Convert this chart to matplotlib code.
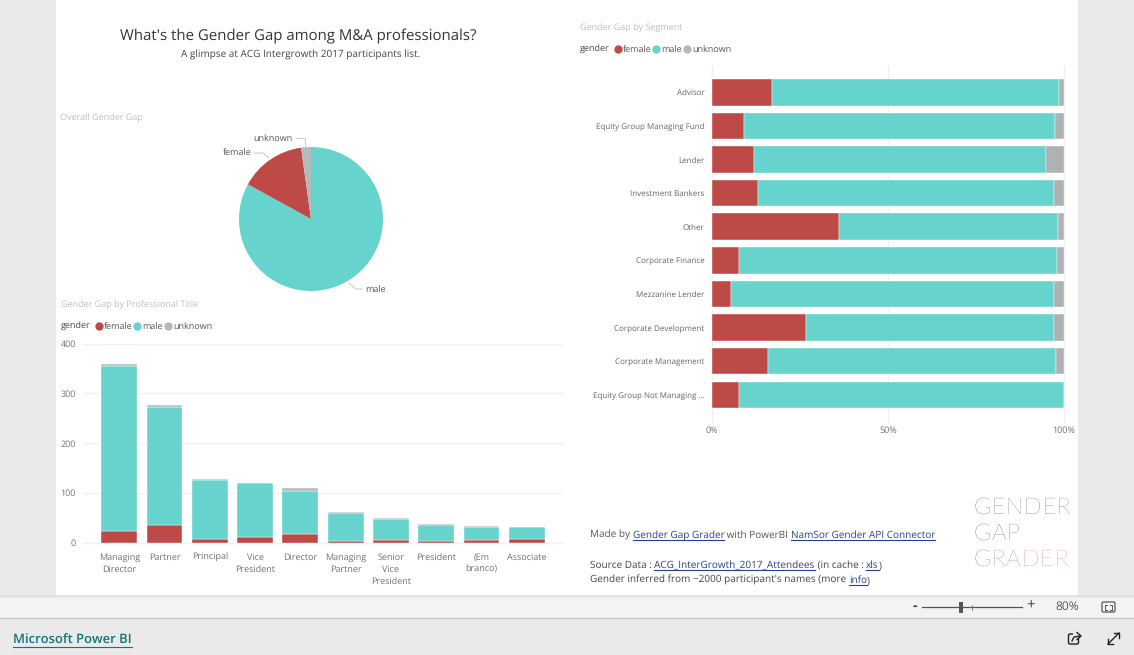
"""Power BI gender gap report page, redrawn in matplotlib."""
import matplotlib
matplotlib.use("Agg")
import matplotlib.pyplot as plt
from matplotlib.patches import Rectangle, FancyBboxPatch

W, H = 1134, 655

FEMALE = "#BE4A47"
MALE = "#66D4CC"
UNKNOWN = "#B4B9BA"
LINK = "#26408F"
TEXT = "#555555"
SOFT = "#BEBEBE"
AXIS = "#707070"
GRID = "#F1F1F1"

# pie, in slice order clockwise from the top
pie_labels = ["male", "female", "unknown"]
pie_values = [83.0, 14.8, 2.2]

titles = ["Managing\nDirector", "Partner", "Principal", "Vice\nPresident", "Director",
          "Managing\nPartner", "Senior\nVice\nPresident", "President", "(Em\nbranco)", "Associate"]
title_female = [23, 35, 8, 11, 17, 4, 5, 4, 5, 7]
title_male = [333, 238, 119, 108, 87, 56, 43, 32, 27, 24]
title_unknown = [3, 4, 1, 1, 5, 1, 1, 1, 1, 1]
title_ticks = [0, 100, 200, 300, 400]

segments = ["Advisor", "Equity Group Managing Fund", "Lender", "Investment Bankers", "Other",
            "Corporate Finance", "Mezzanine Lender", "Corporate Development",
            "Corporate Management", "Equity Group Not Managing ..."]
seg_female = [17.1, 9.1, 11.9, 13.0, 36.1, 7.7, 5.4, 26.7, 15.8, 7.6]
seg_male = [81.5, 88.4, 83.1, 84.3, 62.3, 90.4, 91.8, 70.4, 81.8, 92.4]
seg_unknown = [1.4, 2.5, 5.0, 2.7, 1.6, 1.9, 2.8, 2.9, 2.4, 0.0]
seg_ticks = [0, 50, 100]
seg_tick_labels = ["0%", "50%", "100%"]

plt.rcParams["font.family"] = ["Open Sans", "DejaVu Sans"]
plt.rcParams["text.hinting"] = "no_hinting"
plt.rcParams["text.hinting_factor"] = 1

fig = plt.figure(figsize=(W / 100, H / 100), dpi=100, facecolor="#EAEAEA")
renderer = fig.canvas.get_renderer()

# page layer in pixel coordinates, y down
page = fig.add_axes([0, 0, 1, 1])
page.set_xlim(0, W)
page.set_ylim(H, 0)
page.axis("off")


def px_axes(left, top, right, bottom):
    ax = fig.add_axes([left / W, 1 - bottom / H, (right - left) / W, (bottom - top) / H])
    ax.patch.set_alpha(0)
    for s in ax.spines.values():
        s.set_visible(False)
    return ax


def run(x, y, parts, size, color=TEXT, link=LINK, weight="normal", under_gap=2.2):
    # consecutive text pieces on one baseline, (text, underlined)
    for txt, under in parts:
        page.text(x, y, txt, fontsize=size, va="baseline", ha="left", weight=weight,
                  color=link if under else color)
        adv = page.text(0, 0, "." + txt + ".", fontsize=size, weight=weight, alpha=0)
        dot = page.text(0, 0, "..", fontsize=size, weight=weight, alpha=0)
        w = adv.get_window_extent(renderer).width - dot.get_window_extent(renderer).width
        adv.remove()
        dot.remove()
        if under:
            page.plot([x, x + w], [y + under_gap, y + under_gap], color=link, lw=0.8)
        x += w
    return x


def legend(x, y):
    page.text(x, y + 3, "gender", fontsize=6.6, va="baseline", color="#444444")
    for px, name, col in [(x + 38, "female", FEMALE), (x + 76, "male", MALE), (x + 107, "unknown", UNKNOWN)]:
        page.scatter([px], [y], s=36, color=col, linewidths=0)
        page.text(px + 5, y + 3, name, fontsize=6.5, va="baseline", color="#555555")


# background blocks
page.add_patch(Rectangle((56, 0), 1022, 595, color="white", lw=0))
page.add_patch(Rectangle((0, 596), W, 22, color="#F3F3F3", lw=0))
page.plot([0, W], [595.5, 595.5], color="#DEDEDE", lw=1)
page.plot([0, W], [618, 618], color="#C8C8C8", lw=1)

page.text(298, 36.5, "What's the Gender Gap among M&A professionals?", fontsize=10.6,
          ha="center", va="center", color="#333333")
page.text(300.5, 54.5, "A glimpse at ACG Intergrowth 2017 participants list.", fontsize=7.3,
          ha="center", va="center", color="#444444")

page.text(60, 118.5, "Overall Gender Gap", fontsize=6.6, va="center", color=SOFT)
page.text(61, 305, "Gender Gap by Professional Title", fontsize=6.6, va="center", color=SOFT)
page.text(580, 28.5, "Gender Gap by Segment", fontsize=6.6, va="center", color=SOFT)
legend(61, 326)
legend(580, 49)

# pie
ax_pie = px_axes(239, 147, 383, 291)
ax_pie.pie(pie_values, colors=[MALE, FEMALE, UNKNOWN], startangle=90, counterclock=False, radius=1)
ax_pie.set_xlim(-1, 1)
ax_pie.set_ylim(-1, 1)
for xs, ys in [([349, 356, 362], [283, 289, 289]), ([254, 263, 269], [153, 153, 158]),
               ([296, 305, 305], [138, 138, 146])]:
    page.plot(xs, ys, color="#CFCFCF", lw=0.8)
page.text(365, 290, pie_labels[0], fontsize=6.4, va="center", color=TEXT)
page.text(252, 153, pie_labels[1], fontsize=6.4, va="center", ha="right", color=TEXT)
page.text(292, 139, pie_labels[2], fontsize=6.4, va="center", ha="right", color=TEXT)

# stacked columns
ax_col = px_axes(83, 343.7, 563, 542.7)
pos = list(range(len(titles)))
base2 = [a + b for a, b in zip(title_female, title_male)]
bar_edge = dict(edgecolor="#FFFFFF", linewidth=0.3)
ax_col.bar(pos, title_female, width=0.79, color=FEMALE, zorder=3, **bar_edge)
ax_col.bar(pos, title_male, width=0.79, bottom=title_female, color=MALE, zorder=3, **bar_edge)
ax_col.bar(pos, title_unknown, width=0.79, bottom=base2, color=UNKNOWN, zorder=3, **bar_edge)
ax_col.set_xlim(-0.8, 9.8)
ax_col.set_ylim(0, 400)
ax_col.set_yticks(title_ticks)
ax_col.set_xticks(pos)
ax_col.set_xticklabels(titles, fontsize=6.3, color=AXIS, linespacing=1.42)
ax_col.tick_params(axis="y", length=0, labelsize=6.5, labelcolor=AXIS, pad=5)
ax_col.tick_params(axis="x", length=0, pad=7.5)
ax_col.grid(axis="y", color=GRID, lw=1, zorder=0)
ax_col.set_axisbelow(True)
ax_col.get_ygridlines()[0].set_clip_on(False)

# 100% stacked bars
ax_seg = px_axes(712, 66, 1064, 421.7)
ypos = list(range(len(segments)))
left2 = [a + b for a, b in zip(seg_female, seg_male)]
ax_seg.barh(ypos, seg_female, height=0.79, color=FEMALE, zorder=3, **bar_edge)
ax_seg.barh(ypos, seg_male, height=0.79, left=seg_female, color=MALE, zorder=3, **bar_edge)
ax_seg.barh(ypos, seg_unknown, height=0.79, left=left2, color="#ADB2B3", zorder=3, **bar_edge)
ax_seg.set_xlim(0, 100)
ax_seg.set_ylim(9.8, -0.78)
ax_seg.set_yticks(ypos)
ax_seg.set_yticklabels(segments, fontsize=6.1, color="#666666")
ax_seg.set_xticks(seg_ticks)
ax_seg.set_xticklabels(seg_tick_labels, fontsize=6.3, color=AXIS)
ax_seg.tick_params(axis="y", length=0, pad=5.5)
ax_seg.tick_params(axis="x", length=0, pad=3)
ax_seg.grid(axis="x", color=GRID, lw=1, zorder=0)
for g in ax_seg.get_xgridlines():
    g.set_clip_on(False)

# credits
run(590, 538, [("Made by ", False), ("Gender Gap Grader", True), (" with PowerBI ", False),
               ("NamSor Gender API Connector", True)], 7.3)
run(590, 568, [("Source Data : ", False), ("ACG_InterGrowth_2017_Attendees", True),
               (" (in cache : ", False), ("xls", True), (")", False)], 7.3, color="#444444")
run(590, 583, [("Gender inferred from ~2000 participant's names (more ", False), ("info", True),
               (")", False)], 7.3, color="#444444")


# logo, one letter at a time for the colour fade
def logo(word, y, colours, gap=1.0):
    x = 973
    for ch, col in zip(word, colours):
        t = page.text(x, y, ch, fontsize=16.5, va="baseline", ha="left", color=col,
                      family=["Lato", "DejaVu Sans"], weight="light")
        x += t.get_window_extent(renderer).width + gap


logo("GENDER", 514, ["#2E343A", "#343A40", "#3A3E44", "#443A3E", "#503A3E", "#5C3A3E"])
logo("GAP", 540, ["#2E343A", "#343A40", "#3A3E44"])
logo("GRADER", 566, ["#4A4A4A", "#78504A", "#B85440", "#DC5238", "#EA4E34", "#EE4C30"])

# report footer controls
page.text(915, 606, "-", fontsize=10, ha="center", va="center", color="#444444", weight="bold")
page.text(1031, 606, "+", fontsize=10.5, ha="center", va="center", color="#444444")
page.plot([922, 1022], [607, 607], color="#555555", lw=0.9)
page.plot([972, 972], [604.5, 609.5], color="#777777", lw=0.6)
page.add_patch(Rectangle((959, 602), 4, 11, color="#555555", lw=0, zorder=4))
page.text(1067, 607, "80%", fontsize=8.4, ha="center", va="center", color="#555555")
page.add_patch(FancyBboxPatch((1102, 602), 13, 10, boxstyle="round,pad=0,rounding_size=1.5",
                              fc="none", ec="#555555", lw=0.9))
for xs, ys in [([1105, 1105, 1107], [606.5, 604.5, 604.5]), ([1110, 1112, 1112], [604.5, 604.5, 606.5]),
               ([1105, 1105, 1107], [607.5, 609.5, 609.5]), ([1110, 1112, 1112], [609.5, 609.5, 607.5])]:
    page.plot(xs, ys, color="#555555", lw=0.7)

run(13, 644, [("Microsoft Power BI", True)], 9.5, link="#15727A", weight="semibold", under_gap=2.5)

# share icon
page.add_patch(FancyBboxPatch((1068.5, 634), 10, 10, boxstyle="round,pad=0,rounding_size=1.5",
                              fc="none", ec="#222222", lw=1))
page.add_patch(Rectangle((1073, 631), 8, 7, color="#EAEAEA", lw=0, zorder=3))
page.plot([1072, 1074, 1080], [641, 637, 636], color="#222222", lw=1, zorder=4)
page.plot([1077, 1081, 1077], [632.5, 636, 639.5], color="#222222", lw=1, zorder=4)
# expand icon
page.plot([1108, 1119], [644, 633], color="#222222", lw=1)
page.plot([1114, 1119, 1119], [633, 633, 638], color="#222222", lw=1)
page.plot([1108, 1108, 1113], [639, 644, 644], color="#222222", lw=1)

fig.savefig("out.png", dpi=100, facecolor=fig.get_facecolor())
